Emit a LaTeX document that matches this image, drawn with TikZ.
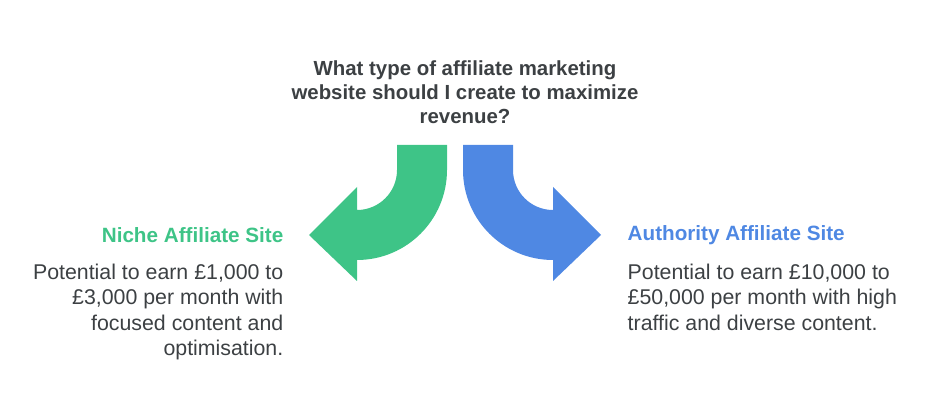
\documentclass[tikz,border=0pt]{standalone}
\usepackage{fontspec}
\setmainfont{Liberation Sans}
\definecolor{nichegreen}{HTML}{3EC487}
\definecolor{authblue}{HTML}{4F88E3}
\definecolor{textgray}{HTML}{3C4043}
\tikzset{
  title/.style={font=\fontsize{15.3}{18}\selectfont\bfseries, text=textgray, align=center},
  heading/.style={font=\fontsize{15.5}{18}\selectfont\bfseries},
  body/.style={font=\fontsize{16}{19.2}\selectfont, text=textgray}
}
\begin{document}
\begin{tikzpicture}[x=0.75pt,y=-0.75pt]
			% Fix the canvas
			\useasboundingbox (0,0) rectangle (936,417);

			% Question at the top
			\node[title] (question) at (465,92) {What type of affiliate marketing\\website should I create to maximize\\revenue?};

			% Left arrow
			\fill[nichegreen] (397,145) -- (447,145) -- (447,170)
				arc[start angle=0, end angle=90, radius=90] -- (357,281) -- (309,235) -- (357,187)
				-- (357,210) arc[start angle=90, end angle=0, radius=40] -- cycle;

			% Right arrow
			\fill[authblue] (513,145) -- (463,145) -- (463,170)
				arc[start angle=180, end angle=90, radius=90] -- (553,281) -- (601,235) -- (553,187)
				-- (553,210) arc[start angle=90, end angle=180, radius=40] -- cycle;

			% Left option
			\node[heading, text=nichegreen, anchor=east] (niche) at (288,235) {Niche Affiliate Site};
			\node[body, anchor=north east, align=right] (nichetext) at (288,259) {Potential to earn £1,000 to\\£3,000 per month with\\focused content and\\optimisation.};

			% Right option
			\node[heading, text=authblue, anchor=west] (authority) at (623,235) {Authority Affiliate Site};
			\node[body, anchor=north west, align=left] (authoritytext) at (623,259) {Potential to earn £10,000 to\\£50,000 per month with high\\traffic and diverse content.};
		\end{tikzpicture}
\end{document}
